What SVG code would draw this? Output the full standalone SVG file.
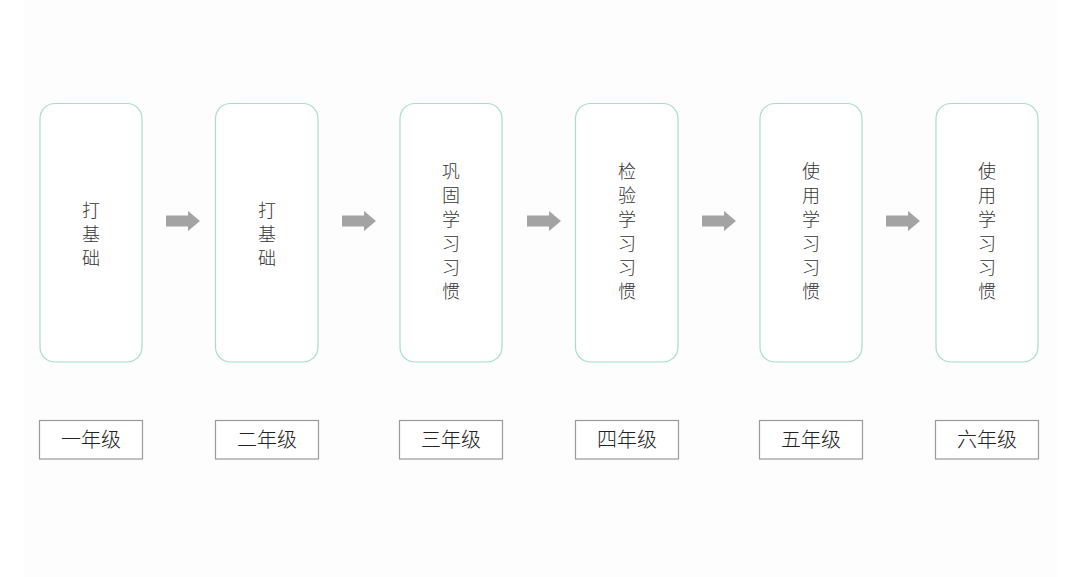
<svg xmlns="http://www.w3.org/2000/svg" width="1080" height="577" viewBox="0 0 1080 577">
<style>
.stage{fill:#ffffff;stroke:#a6dccd;stroke-width:1.2}
.grade{fill:#ffffff;stroke:#9a9a9a;stroke-width:1.2}
.vt{font-family:"Noto Sans CJK SC","Noto Sans",sans-serif;font-size:18px;font-weight:300;fill:#333;text-anchor:middle}
.gt{font-family:"Noto Sans CJK SC","Noto Sans",sans-serif;font-size:20px;font-weight:300;fill:#222;text-anchor:middle}
.arr{fill:#a3a3a3}
</style>
<defs>
<path id="arrow" d="M0,-5.5 H22 V-10 L34,0 L22,10 V5.5 H0 Z"/>
</defs>
<rect x="0" y="0" width="1080" height="577" fill="#ffffff"/>
<rect x="24" y="0" width="1034" height="577" fill="#fdfdfd"/>

<g id="node-1">
<rect class="stage" x="40" y="103.5" width="102" height="258.5" rx="15"/>
<text class="vt" x="91" y="217">打</text><text class="vt" x="91" y="241">基</text><text class="vt" x="91" y="265">础</text>
</g>
<g id="node-2">
<rect class="stage" x="215.5" y="103.5" width="102.5" height="258.5" rx="15"/>
<text class="vt" x="267" y="217">打</text><text class="vt" x="267" y="241">基</text><text class="vt" x="267" y="265">础</text>
</g>
<g id="node-3">
<rect class="stage" x="400" y="103.5" width="102" height="258.5" rx="15"/>
<text class="vt" x="451" y="178">巩</text><text class="vt" x="451" y="202">固</text><text class="vt" x="451" y="226">学</text><text class="vt" x="451" y="250">习</text><text class="vt" x="451" y="274">习</text><text class="vt" x="451" y="298">惯</text>
</g>
<g id="node-4">
<rect class="stage" x="575.5" y="103.5" width="102.5" height="258.5" rx="15"/>
<text class="vt" x="627" y="178">检</text><text class="vt" x="627" y="202">验</text><text class="vt" x="627" y="226">学</text><text class="vt" x="627" y="250">习</text><text class="vt" x="627" y="274">习</text><text class="vt" x="627" y="298">惯</text>
</g>
<g id="node-5">
<rect class="stage" x="760" y="103.5" width="102" height="258.5" rx="15"/>
<text class="vt" x="811" y="178">使</text><text class="vt" x="811" y="202">用</text><text class="vt" x="811" y="226">学</text><text class="vt" x="811" y="250">习</text><text class="vt" x="811" y="274">习</text><text class="vt" x="811" y="298">惯</text>
</g>
<g id="node-6">
<rect class="stage" x="936" y="103.5" width="102" height="258.5" rx="15"/>
<text class="vt" x="987" y="178">使</text><text class="vt" x="987" y="202">用</text><text class="vt" x="987" y="226">学</text><text class="vt" x="987" y="250">习</text><text class="vt" x="987" y="274">习</text><text class="vt" x="987" y="298">惯</text>
</g>

<g id="grade-1"><rect class="grade" x="39.5" y="420.5" width="103" height="38.5"/><text class="gt" x="91" y="447">一年级</text></g>
<g id="grade-2"><rect class="grade" x="215.5" y="420.5" width="103" height="38.5"/><text class="gt" x="267" y="447">二年级</text></g>
<g id="grade-3"><rect class="grade" x="399.5" y="420.5" width="103" height="38.5"/><text class="gt" x="451" y="447">三年级</text></g>
<g id="grade-4"><rect class="grade" x="575.5" y="420.5" width="103" height="38.5"/><text class="gt" x="627" y="447">四年级</text></g>
<g id="grade-5"><rect class="grade" x="759.5" y="420.5" width="103" height="38.5"/><text class="gt" x="811" y="447">五年级</text></g>
<g id="grade-6"><rect class="grade" x="935.5" y="420.5" width="103" height="38.5"/><text class="gt" x="987" y="447">六年级</text></g>

<g id="connectors" class="arr">
<use href="#arrow" x="166" y="221"/>
<use href="#arrow" x="342" y="221"/>
<use href="#arrow" x="527" y="221"/>
<use href="#arrow" x="702" y="221"/>
<use href="#arrow" x="886" y="221"/>
</g>
</svg>
